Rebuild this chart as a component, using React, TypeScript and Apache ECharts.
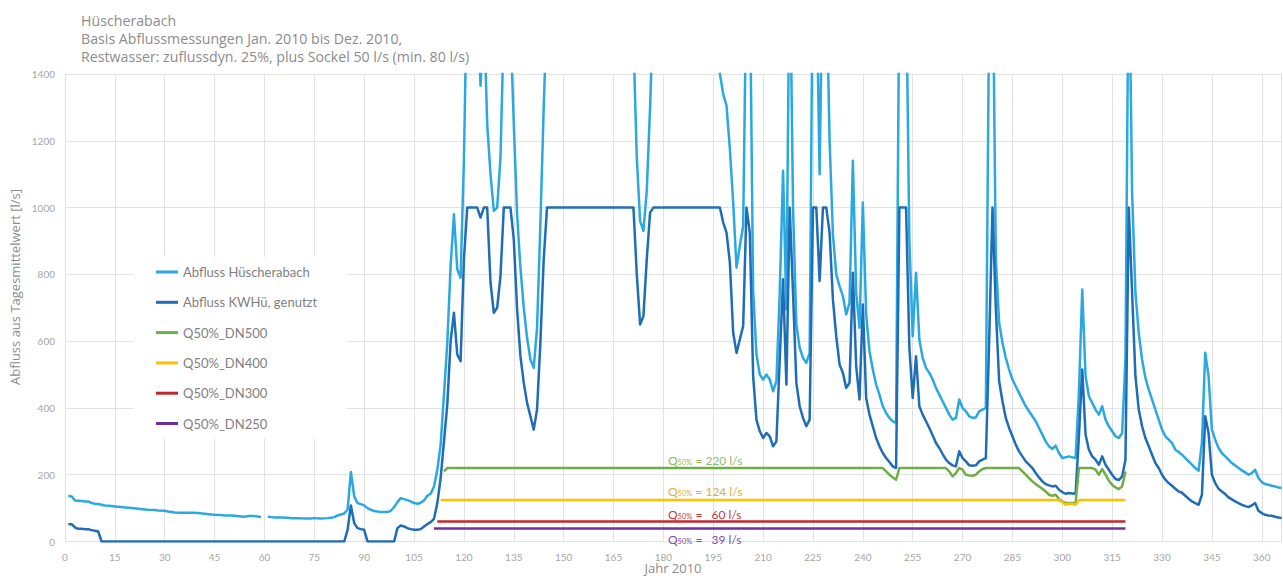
import React, { useEffect, useRef } from "react";
import * as echarts from "echarts";

type Pt = [number, number | null];

const titleLines = [
  "Hüscherabach",
  "Basis Abflussmessungen Jan. 2010 bis Dez. 2010,",
  "Restwasser: zuflussdyn. 25%, plus Sockel 50 l/s (min. 80 l/s)",
];
const xAxisName = "Jahr 2010";
const yAxisName = "Abfluss aus Tagesmittelwert [l/s]";
const seriesNames = [
  "Abfluss Hüscherabach",
  "Abfluss KWHü, genutzt",
  "Q50%_DN500",
  "Q50%_DN400",
  "Q50%_DN300",
  "Q50%_DN250",
];
const seriesColors = ["#2aa9e1", "#1f6db6", "#70ad47", "#ffc000", "#c0282e", "#7030a0"];
const qLabelValues = ["220", "124", "60", "39"];
const qLabelColors = ["#8cbc6c", "#d6b043", "#c23b3b", "#7b4fa8"];

// Abfluss Hüscherabach (day, l/s) – values above 1400 leave the plot
const abflussHuescherabach: Pt[] = [
  [1,137],[2,135],[3,123],[4,122],[5,121],[6,120],[7,120],[8,115],[9,113],[10,112],[11,110],[12,108],[13,107],[14,106],[15,105],[16,104],[17,103],[18,102],[19,101],[20,100],[22,98],[24,96],[25,95],[27,94],[28,93],[30,92],[31,90],[33,87],[35,86],[38,86],[40,85],[42,83],[44,81],[45,80],[47,79],[48,78],[50,78],[51,77],[53,75],[54,74],[55,76],[57,76],[58,75],[59,73],[60,null],[61,74],[62,73],[63,72],[65,72],[67,71],[68,70],[70,70],[72,69],[74,69],[75,70],[77,69],[79,70],[80,71],[81,73],[82,78],[83,81],[84,84],[85,95],[86,208],[87,135],[88,115],[89,112],[90,108],[91,100],[92,95],[93,91],[94,90],[95,88],[97,88],[98,92],[99,103],[100,118],[101,130],[102,127],[103,124],[104,120],[105,115],[106,113],[107,116],[108,123],[109,137],[110,143],[111,165],[112,215],[113,290],[114,440],[115,595],[116,825],[117,980],[118,815],[119,790],[120,1145],[121,1700],[122,1900],[123,1800],[124,1600],[125,1365],[126,1600],[127,1250],[128,1100],[129,990],[130,1000],[131,1150],[132,1550],[133,1700],[134,1550],[135,1250],[136,980],[137,820],[138,700],[139,610],[140,545],[141,520],[142,640],[143,950],[144,1300],[145,1600],[150,1900],[160,2000],[170,1800],[171,1500],[172,1150],[173,960],[174,930],[175,1050],[176,1300],[177,1600],[185,2000],[195,1800],[196,1550],[197,1400],[198,1340],[199,1305],[200,1175],[201,1015],[202,820],[203,885],[204,945],[205,1700],[206,1700],[207,750],[208,560],[209,500],[210,485],[211,500],[212,485],[213,450],[214,480],[215,745],[216,1110],[217,695],[218,1800],[219,1000],[220,650],[221,580],[222,550],[223,535],[224,565],[225,1800],[226,1700],[227,1100],[228,1800],[229,1700],[230,1200],[231,920],[232,800],[233,765],[234,735],[235,680],[236,715],[237,1140],[238,745],[239,640],[240,1015],[241,680],[242,570],[243,515],[244,470],[245,440],[246,405],[247,385],[248,370],[249,360],[250,355],[251,1700],[252,1800],[253,1700],[254,900],[255,615],[256,805],[257,605],[258,550],[259,520],[260,505],[261,485],[262,460],[263,440],[264,420],[265,400],[266,380],[267,365],[268,370],[269,425],[270,400],[271,390],[272,375],[273,370],[274,372],[275,390],[276,395],[277,400],[278,1600],[279,1800],[280,850],[281,655],[282,595],[283,550],[284,515],[285,485],[286,465],[287,445],[288,425],[289,405],[290,390],[291,375],[292,360],[293,340],[294,320],[295,300],[296,285],[297,277],[298,287],[299,265],[300,250],[301,252],[302,255],[303,252],[304,250],[305,445],[306,755],[307,495],[308,435],[309,415],[310,395],[311,380],[312,405],[313,365],[314,345],[315,330],[316,315],[317,310],[318,325],[319,545],[320,1800],[321,1045],[322,745],[323,625],[324,545],[325,490],[326,455],[327,425],[328,395],[329,365],[330,335],[331,315],[332,305],[333,295],[334,275],[335,268],[336,260],[337,250],[338,240],[339,230],[340,220],[341,212],[342,295],[343,565],[344,495],[345,335],[346,305],[347,280],[348,265],[349,255],[350,245],[351,235],[352,228],[353,220],[354,213],[355,207],[356,200],[357,205],[358,215],[359,190],[360,178],[361,172],[362,170],[363,167],[364,165],[365,162],[366,160],
];

// Abfluss KWHü, genutzt (day, l/s)
const abflussKWHue: Pt[] = [
  [1,52],[2,52],[3,42],[4,38],[5,38],[6,37],[7,37],[8,34],[9,32],[10,30],[11,0],[84,0],[85,35],[86,108],[87,55],[88,40],[89,37],[90,35],[91,0],[99,0],[100,40],[101,48],[102,45],[103,40],[104,37],[105,35],[106,35],[107,37],[108,45],[109,52],[110,58],[111,68],[112,115],[113,190],[114,300],[115,410],[116,600],[117,685],[118,560],[119,540],[120,845],[121,1000],[124,1000],[125,970],[126,1000],[127,1000],[128,775],[129,685],[130,700],[131,795],[132,1000],[134,1000],[135,905],[136,695],[137,555],[138,475],[139,415],[140,375],[141,335],[142,395],[143,595],[144,845],[145,1000],[171,1000],[172,800],[173,650],[174,675],[175,845],[176,985],[177,1000],[197,1000],[198,955],[199,925],[200,835],[201,625],[202,565],[203,605],[204,645],[205,1000],[206,925],[207,495],[208,365],[209,330],[210,310],[211,325],[212,315],[213,285],[214,300],[215,545],[216,785],[217,470],[218,1000],[219,745],[220,475],[221,405],[222,370],[223,345],[224,365],[225,1000],[226,1000],[227,780],[228,1000],[229,1000],[230,925],[231,725],[232,615],[233,530],[234,505],[235,460],[236,475],[237,805],[238,525],[239,425],[240,710],[241,430],[242,380],[243,345],[244,310],[245,285],[246,265],[247,250],[248,238],[249,225],[250,220],[251,1000],[252,1000],[253,1000],[254,580],[255,430],[256,555],[257,405],[258,380],[259,360],[260,340],[261,318],[262,295],[263,280],[264,262],[265,245],[266,235],[267,228],[268,225],[269,270],[270,250],[271,240],[272,228],[273,227],[274,228],[275,240],[276,245],[277,250],[278,600],[279,1000],[280,700],[281,480],[282,420],[283,370],[284,340],[285,315],[286,290],[287,270],[288,255],[289,240],[290,230],[291,220],[292,205],[293,192],[294,180],[295,172],[296,168],[297,165],[298,167],[299,155],[300,148],[301,143],[302,145],[303,144],[304,143],[305,315],[306,515],[307,320],[308,275],[309,255],[310,245],[311,230],[312,255],[313,230],[314,215],[315,200],[316,187],[317,184],[318,195],[319,245],[320,1000],[321,745],[322,495],[323,395],[324,345],[325,310],[326,285],[327,260],[328,235],[329,220],[330,200],[331,185],[332,175],[333,167],[334,158],[335,150],[336,146],[337,137],[338,128],[339,120],[340,115],[341,110],[342,140],[343,375],[344,325],[345,200],[346,175],[347,158],[348,150],[349,142],[350,132],[351,126],[352,120],[353,115],[354,110],[355,106],[356,103],[357,108],[358,115],[359,92],[360,85],[361,80],[362,78],[363,77],[364,74],[365,72],[366,70],
];

const q50DN500: Pt[] = [
  [114,210],[115,220],[246,220],[247,210],[248,200],[249,192],[250,185],[251,220],[265,220],[266,210],[267,195],[268,205],[269,220],[270,215],[271,200],[272,198],[273,197],[274,200],[275,210],[276,217],[277,220],[287,220],[288,210],[289,200],[290,190],[291,180],[292,172],[293,165],[294,158],[295,150],[296,140],[297,137],[298,140],[299,127],[300,120],[301,115],[302,115],[303,115],[304,115],[305,220],[309,220],[310,215],[311,200],[312,217],[313,200],[314,182],[315,170],[316,162],[317,157],[318,165],[319,210],
];
const q50DN400: Pt[] = [
  [113,124],[299,124],[300,118],[301,110],[302,113],[303,112],[304,110],[305,124],[319,124],
];
const q50DN300: Pt[] = [[112,60],[319,60]];
const q50DN250: Pt[] = [[111,39],[319,39]];

const allSeries = [abflussHuescherabach, abflussKWHue, q50DN500, q50DN400, q50DN300, q50DN250];

const FONT = "Lato";
const FONT_WIDE = "Open Sans";
const W = 1283;
const H = 579;

export default function App() {
  const ref = useRef<HTMLDivElement>(null);

  useEffect(() => {
    if (!ref.current) return;
    const chart = echarts.init(ref.current, undefined, { renderer: "svg", width: W, height: H });

    const labelY = [460, 491, 514, 539];
    const qGraphics = qLabelValues.map((v, i) => ({
      type: "text",
      x: 668,
      y: labelY[i],
      z: 10,
      style: {
        text: `{q|Q}{s|50%}{n| = ${v.length < 3 ? "  " : ""}${v} l/s}`,
        align: "left",
        verticalAlign: "middle",
        rich: {
          q: { fontFamily: FONT, fontSize: 12, fill: qLabelColors[i] },
          s: { fontFamily: FONT, fontSize: 7.5, fill: qLabelColors[i], verticalAlign: "bottom", padding: [4, 0, 0, 0] },
          n: { fontFamily: FONT, fontSize: 12, fill: qLabelColors[i] },
        },
      },
    }));

    chart.setOption({
      animation: false,
      backgroundColor: "#ffffff",
      title: {
        text: titleLines.join("\n"),
        left: 81,
        top: 11,
        padding: 0,
        textStyle: {
          fontFamily: FONT_WIDE,
          fontSize: 14.2,
          fontWeight: "normal",
          color: "#8c8c8c",
          lineHeight: 18.3,
        },
      },
      legend: {
        orient: "vertical",
        left: 134,
        top: 257,
        padding: [8, 29, 8, 22],
        itemGap: 16.3,
        itemWidth: 22,
        itemHeight: 3,
        icon: "rect",
        backgroundColor: "#ffffff",
        textStyle: { fontFamily: FONT, fontSize: 13, color: "#7f7f7f", lineHeight: 14 },
        data: seriesNames,
      },
      grid: {
        left: 65,
        right: 1.3,
        top: 74,
        bottom: 37.5,
        containLabel: false,
        outerBoundsMode: "none",
      },
      xAxis: {
        type: "value",
        min: 0,
        max: 366,
        interval: 15,
        axisLine: { show: false },
        axisTick: { show: false },
        axisLabel: { fontFamily: FONT, fontSize: 10, color: "#a6a6a6", margin: 10, showMaxLabel: false },
        splitLine: { show: true, lineStyle: { color: "#e2e2e2", width: 1 } },
      },
      yAxis: {
        type: "value",
        min: 0,
        max: 1400,
        interval: 200,
        axisLine: { show: false },
        axisTick: { show: false },
        axisLabel: {
          fontFamily: FONT,
          fontSize: 10,
          color: "#a6a6a6",
          margin: 10,
          formatter: (v: number) => String(v),
        },
        splitLine: { show: true, lineStyle: { color: "#e2e2e2", width: 1 } },
      },
      graphic: [
        {
          type: "text",
          x: 15,
          y: 287,
          rotation: Math.PI / 2,
          style: {
            text: yAxisName,
            fontFamily: FONT_WIDE,
            fontSize: 13,
            fill: "#8c8c8c",
            align: "center",
            verticalAlign: "middle",
          },
        },
        {
          type: "text",
          x: 673,
          y: 568,
          style: {
            text: xAxisName,
            fontFamily: FONT_WIDE,
            fontSize: 13,
            fill: "#8c8c8c",
            align: "center",
            verticalAlign: "middle",
          },
        },
        ...qGraphics,
      ],
      series: allSeries.map((data, i) => ({
        name: seriesNames[i],
        type: "line",
        data,
        showSymbol: false,
        symbol: "none",
        connectNulls: false,
        clip: true,
        color: seriesColors[i],
        lineStyle: { width: 2.5, color: seriesColors[i], join: "round" },
        z: 2,
      })),
    });

    return () => chart.dispose();
  }, []);

  return (
    <div
      ref={ref}
      style={{ position: "fixed", left: 0, top: 0, width: W, height: H }}
    />
  );
}
